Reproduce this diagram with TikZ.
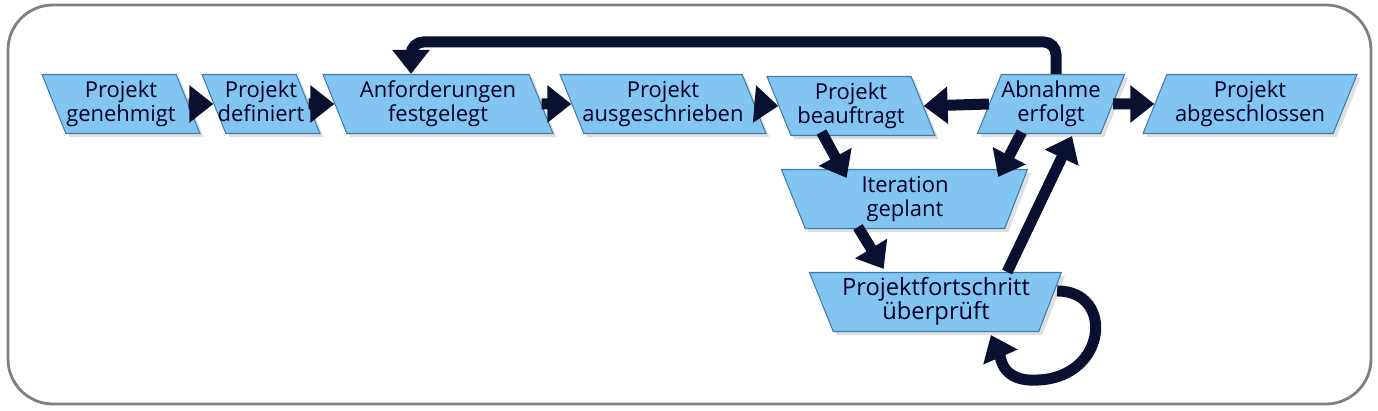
\documentclass[tikz,border=0pt]{standalone}
\usepackage{fontspec}
\setmainfont{Open Sans}
\usetikzlibrary{shapes.geometric, arrows.meta, positioning, calc, shadows}
\definecolor{boxblue}{RGB}{130,197,240}
\definecolor{boxline}{RGB}{60,125,175}
\definecolor{navy}{RGB}{10,16,48}
\definecolor{framegray}{RGB}{128,128,128}
\tikzstyle{flow} = [line width=0.22cm, draw=navy, -{Triangle[length=0.48cm, width=0.72cm]}]

\begin{document}
\begin{tikzpicture}[
    x=0.02cm, y=-0.02cm,
    state/.style={trapezium, trapezium stretches body=true, draw=boxline, line width=0.6pt,
                  fill=boxblue, text=black!85!blue, align=center,
                  font=\fontsize{12.5}{13.8}\selectfont,
                  text height=23.5pt, text depth=3.5pt, inner ysep=3.3pt, inner xsep=-10pt,
                  drop shadow={shadow xshift=2pt, shadow yshift=-2pt, opacity=0.25}},
    leftlean/.style={state, trapezium left angle=112, trapezium right angle=68},
    rightlean/.style={state, trapezium left angle=68, trapezium right angle=112},
    funnel/.style={state, trapezium left angle=112, trapezium right angle=111}
]
\useasboundingbox (0,0) rectangle (1378,411);

% --- frame ---
\draw[framegray, line width=1.6pt, rounded corners=0.9cm] (8,5) rectangle (1371,404);

% --- main row ---
\node[leftlean, minimum width=3.16cm] (gen) at (121,104) {Projekt\\genehmigt};
\node[leftlean, minimum width=2.36cm] (def) at (261,104) {Projekt\\definiert};
\node[leftlean, minimum width=4.6cm] (anf) at (438,104) {Anforderungen\\festgelegt};
\node[leftlean, minimum width=4.12cm] (aus) at (663,104) {Projekt\\ausgeschrieben};
\node[leftlean, minimum width=3.36cm] (bea) at (851,106) {Projekt\\beauftragt};
\node[rightlean, minimum width=2.94cm] (abn) at (1051,104) {Abnahme\\erfolgt};
\node[rightlean, minimum width=4.28cm] (abg) at (1250,104) {Projekt\\abgeschlossen};

% --- iteration cycle ---
\node[funnel, minimum width=4.92cm] (ite) at (905,199) {Iteration\\geplant};
\node[funnel, minimum width=5.04cm, font=\fontsize{13.5}{13.8}\selectfont] (fort) at (936,302)
    {Projektfortschritt\\überprüft};

% --- arrows ---
\draw[flow] (gen.east) -- (def.west);
\draw[flow] (def.east) -- (anf.west);
\draw[flow] (anf.east) -- (aus.west);
\draw[flow] (aus.east) -- (bea.west);
\draw[flow] (abn.west) -- (bea.east);
\draw[flow] (abn.east) -- (abg.west);
\draw[flow, rounded corners=0.25cm] ($(abn.north)+(5,0)$) -- ++(0,-32) -| ($(anf.north)+(-27,0)$);
\draw[flow] ($(bea.bottom left corner)+(31,-4)$) -- ($(ite.top left corner)+(66,9)$);
\draw[flow] ($(abn.bottom left corner)+(45,-2)$) -- ($(ite.top right corner)+(-30,8)$);
\draw[flow] ($(ite.bottom left corner)+(53,-2)$) -- ($(fort.top left corner)+(75,-3)$);
\draw[flow] ($(fort.top right corner)+(-55,0)$) -- ($(abn.bottom right corner)+(-29,2)$);
\draw[flow] ($(fort.top right corner)+(-5,19)$) .. controls +(58,0) and +(70,-2) ..
    ($(fort.bottom right corner)+(-2,48)$) .. controls +(-35,2) and +(10,23) ..
    ($(fort.bottom left corner)+(158,3)$);

\end{tikzpicture}
\end{document}
